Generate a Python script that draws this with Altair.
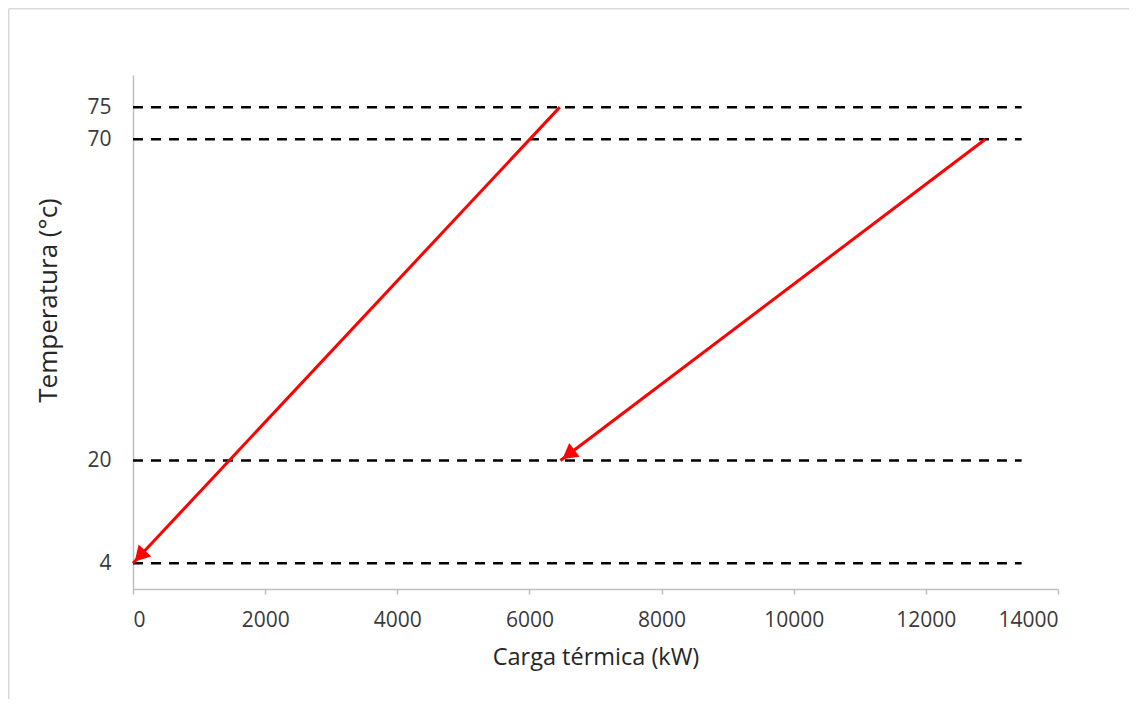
import math
import altair as alt
import pandas as pd

# ---- data ----
cold_x = [6460, 0]          # cold stream: 4 -> 75 °C
cold_y = [75, 4]
hot_x = [12900, 6470]       # hot stream: 70 -> 20 °C
hot_y = [70, 20]
ref_levels = [75, 70, 20, 4]
ref_x_start = 0
ref_x_end = 13450
x_ticks = [0, 2000, 4000, 6000, 8000, 10000, 12000, 14000]
y_ticks = [4, 20, 70, 75]

W, H = 925, 514
X_MAX, Y_MAX = 14000, 80
FONT = "Open Sans"

streams = pd.DataFrame({
    "x": cold_x + hot_x,
    "y": cold_y + hot_y,
    "s": ["cold", "cold", "hot", "hot"],
    "o": [0, 1, 0, 1],
})
refs = pd.DataFrame({
    "x": [ref_x_start] * len(ref_levels),
    "x2": [ref_x_end] * len(ref_levels),
    "y": ref_levels,
})

xs = alt.Scale(domain=[0, X_MAX], nice=False)
ys = alt.Scale(domain=[0, Y_MAX], nice=False)

x_axis = alt.Axis(values=x_ticks, format="d", grid=False, domainColor="#bfbfbf",
                  domainWidth=1.5, tickColor="#bfbfbf", tickSize=5, tickWidth=1.5,
                  labelFont=FONT, labelFontSize=21, labelColor="#3a3a3a", labelPadding=15,
                  title="Carga térmica (kW)", titleFont=FONT, titleFontSize=23.5,
                  titleFontWeight="normal", titleColor="#262626",
                  titleY=68, titleBaseline="middle")
y_axis = alt.Axis(values=y_ticks, format="d", grid=False, domainColor="#bfbfbf",
                  domainWidth=1.5, ticks=False, labelFont=FONT, labelFontSize=21,
                  labelColor="#3a3a3a", labelPadding=22, title="Temperatura (°c)",
                  titleFont=FONT, titleFontSize=26, titleFontWeight="normal",
                  titleColor="#262626", titleX=-85, titleY=225, titleBaseline="middle",
                  titleAngle=270)

ref_layer = alt.Chart(refs).mark_rule(color="black", strokeWidth=2.5,
                                      strokeDash=[10, 8]).encode(
    x=alt.X("x:Q", scale=xs, axis=x_axis),
    x2="x2:Q",
    y=alt.Y("y:Q", scale=ys, axis=y_axis),
)

line_layer = alt.Chart(streams).mark_line(color="#ff0000", strokeWidth=3).encode(
    x=alt.X("x:Q", scale=xs),
    y=alt.Y("y:Q", scale=ys),
    detail="s:N",
    order="o:Q",
)

# arrowheads at the end of each stream
def head(xa, ya):
    dx = (xa[1] - xa[0]) * W / X_MAX
    dy = -(ya[1] - ya[0]) * H / Y_MAX
    L = math.hypot(dx, dy)
    ux, uy = dx / L, dy / L
    ang = math.degrees(math.atan2(ux, -uy)) % 360
    size = 300
    r = math.sqrt(size) / 2
    back = 2 * math.tan(math.radians(30)) * r
    df = pd.DataFrame({"x": [xa[1]], "y": [ya[1]]})
    return alt.Chart(df).mark_point(shape="triangle-up", filled=True, color="#ff0000",
                                    opacity=1, size=size, angle=ang,
                                    xOffset=-ux * back, yOffset=-uy * back).encode(
        x=alt.X("x:Q", scale=xs), y=alt.Y("y:Q", scale=ys))

frame = alt.Chart(pd.DataFrame({"a": [0]})).mark_rule(color="#d9d9d9", strokeWidth=1.5).encode(
    x=alt.value(-124.3), y=alt.value(-66.3), y2=alt.value(700))
frame2 = alt.Chart(pd.DataFrame({"a": [0]})).mark_rule(color="#d9d9d9", strokeWidth=1.5).encode(
    x=alt.value(-124.3), x2=alt.value(1100), y=alt.value(-66.3))

chart = alt.layer(frame, frame2, ref_layer, line_layer,
                  head(cold_x, cold_y), head(hot_x, hot_y)).properties(
    width=W, height=H,
    autosize=alt.AutoSizeParams(type="none"),
    padding={"left": 125, "top": 67, "right": 71, "bottom": 110},
    view=alt.ViewBackground(stroke="transparent", strokeWidth=0, strokeOpacity=0),
).configure(background="white").configure_view(stroke="transparent", strokeWidth=0,
                                                strokeOpacity=0)

chart.save("out.html", embed_options={"renderer": "svg", "actions": False})
